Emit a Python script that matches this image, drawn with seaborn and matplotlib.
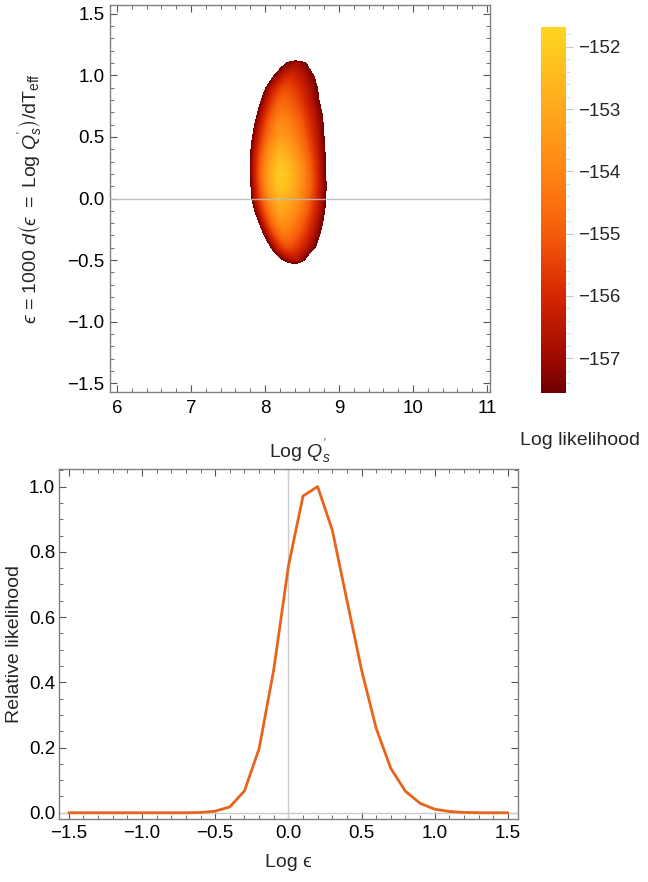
import numpy as np
import matplotlib
matplotlib.use("Agg")
import matplotlib.pyplot as plt
import seaborn as sns
from matplotlib.colors import LinearSegmentedColormap, Normalize
from matplotlib.ticker import MultipleLocator, FuncFormatter

# ---------------- data ----------------
# bottom panel: relative likelihood vs Log epsilon
eps_values = [-1.5, -1.4, -1.3, -1.2, -1.1, -1.0, -0.9, -0.8, -0.7, -0.6,
              -0.5, -0.4, -0.3, -0.2, -0.1, 0.0, 0.1, 0.2, 0.3, 0.4,
              0.5, 0.6, 0.7, 0.8, 0.9, 1.0, 1.1, 1.2, 1.3, 1.4, 1.5]
rel_likelihood = [0.0, 0.0, 0.0, 0.0, 0.0, 0.0, 0.0, 0.0, 0.0, 0.001,
                  0.005, 0.018, 0.067, 0.196, 0.438, 0.755, 0.971, 1.0, 0.867, 0.652,
                  0.438, 0.259, 0.136, 0.066, 0.029, 0.011, 0.004, 0.001, 0.0, 0.0, 0.0]

# top panel: per-row description of the log-likelihood surface
row_eps = [-0.7, -0.6, -0.5, -0.4, -0.3, -0.2, -0.1, 0.0, 0.1, 0.2, 0.3,
           0.4, 0.5, 0.6, 0.7, 0.8, 0.9, 1.0, 1.1, 1.2, 1.3]
row_max = [-161.0, -159.8, -156.6, -155.3, -154.4, -153.7, -153.1, -152.6, -152.15, -152.0, -152.3,
           -152.8, -153.4, -153.8, -154.3, -154.8, -155.3, -156.0, -156.9, -160.2, -161.0]
row_left = [8.23, 8.23, 8.23, 8.07, 7.98, 7.91, 7.85, 7.81, 7.80, 7.79, 7.79,
            7.80, 7.82, 7.85, 7.89, 7.94, 8.00, 8.11, 8.27, 8.27, 8.27]
row_right = [8.54, 8.54, 8.54, 8.68, 8.74, 8.78, 8.81, 8.82, 8.83, 8.82, 8.82,
             8.81, 8.80, 8.79, 8.77, 8.73, 8.71, 8.66, 8.56, 8.56, 8.56]
row_peak = [8.40, 8.40, 8.40, 8.30, 8.26, 8.23, 8.22, 8.21, 8.20, 8.20, 8.20,
            8.20, 8.21, 8.21, 8.22, 8.24, 8.27, 8.33, 8.41, 8.41, 8.41]
falloff_power = 1.6
cbar_min, cbar_max = -157.56, -151.68
cbar_ticks = [-157, -156, -155, -154, -153, -152]

cmap_colors = ["#6E0000", "#9E0A00", "#D62600", "#F55C0A", "#FF8514", "#FFA81C", "#FFD621"]
cmap_pos = [0.0, 0.095, 0.265, 0.435, 0.605, 0.776, 1.0]
line_color = "#E8641A"

# ---------------- build the surface table ----------------
x_grid = np.arange(7.5, 9.1001, 0.005)
table = np.zeros((len(row_eps), len(x_grid)))
for i in range(len(row_eps)):
    m = row_max[i]
    depth = max(m - cbar_min, 0.3)
    xp, xl, xr = row_peak[i], row_left[i], row_right[i]
    t = np.where(x_grid < xp, (xp - x_grid) / (xp - xl), (x_grid - xp) / (xr - xp))
    table[i] = m - depth * t ** falloff_power

# ---------------- style ----------------
sns.set_style("ticks")
plt.rcParams["font.family"] = ["Liberation Sans", "DejaVu Sans"]
plt.rcParams["mathtext.fontset"] = "custom"
plt.rcParams["mathtext.rm"] = "Liberation Sans"
plt.rcParams["mathtext.it"] = "Liberation Sans:italic"
plt.rcParams["mathtext.bf"] = "Liberation Sans:bold"
plt.rcParams["mathtext.fallback"] = "stixsans"

frame_col = "#808080"
fs_tick = 13.5
fs_lab = 14

fig = plt.figure(figsize=(6.48, 8.82), dpi=100)
ax1 = fig.add_axes([110 / 648, 1 - 392 / 882, 380 / 648, 387 / 882])
cax = fig.add_axes([541 / 648, 1 - 393 / 882, 25 / 648, 366 / 882])
ax2 = fig.add_axes([59.3 / 648, 1 - 819.3 / 882, 458.4 / 648, 350 / 882])

cmap = LinearSegmentedColormap.from_list("solar", list(zip(cmap_pos, cmap_colors)))
cmap.set_under("white")
norm = Normalize(vmin=cbar_min, vmax=cbar_max)

dx = x_grid[1] - x_grid[0]
im = ax1.imshow(table, origin="lower", aspect="auto", cmap=cmap, norm=norm,
                extent=[x_grid[0] - dx / 2, x_grid[-1] + dx / 2,
                        row_eps[0] - 0.05, row_eps[-1] + 0.05],
                interpolation="bilinear", interpolation_stage="data", zorder=1)
ax1.axhline(0, color="#bbbbbb", lw=1.0, zorder=3, alpha=0.9)
ax1.set_xlim(5.905, 11.04)
ax1.set_ylim(-1.57, 1.57)

def fmt1(v, pos):
    s = "%.1f" % v
    return s.replace("-", "\u2212")

def fmt0(v, pos):
    return ("%d" % round(v)).replace("-", "\u2212")

def style_frame(ax):
    for sp in ax.spines.values():
        sp.set_color(frame_col)
        sp.set_linewidth(1.0)
        sp.set_visible(True)
    ax.tick_params(which="both", direction="in", top=True, right=True,
                   colors="#555555", labelcolor="black", labelsize=fs_tick)
    ax.tick_params(which="major", length=5, width=0.8)
    ax.tick_params(which="minor", length=2.8, width=0.6)

style_frame(ax1)
ax1.xaxis.set_major_locator(MultipleLocator(1))
ax1.xaxis.set_minor_locator(MultipleLocator(0.2))
ax1.yaxis.set_major_locator(MultipleLocator(0.5))
ax1.yaxis.set_minor_locator(MultipleLocator(0.1))
ax1.xaxis.set_major_formatter(FuncFormatter(fmt0))
ax1.yaxis.set_major_formatter(FuncFormatter(fmt1))
ax1.tick_params(axis="x", which="major", pad=6)
ax1.tick_params(axis="y", which="major", pad=4)
ax1.set_xlabel(r"Log $Q_s^{'}$", fontsize=fs_lab, labelpad=14)
ax1.set_ylabel("$\u03f5$ = 1000 $d\\left(\u03f5\\ =\\ \\mathrm{Log}\\ Q_s^{'}\\right)/\\mathrm{dT}_{\\mathrm{eff}}$",
               fontsize=fs_lab, labelpad=15)

cb = fig.colorbar(im, cax=cax, ticks=cbar_ticks)
cb.outline.set_visible(False)
cb.ax.yaxis.set_minor_locator(MultipleLocator(0.2))
cb.ax.tick_params(which="major", length=5, width=0.8, color="#c8c8c8", labelsize=fs_tick, pad=4)
cb.ax.tick_params(which="minor", length=3, width=0.6, color="#d8d8d8")
cb.ax.yaxis.set_major_formatter(FuncFormatter(fmt0))
fig.text(580 / 648, 1 - 440 / 882, "Log likelihood", ha="center", va="center", fontsize=fs_lab)

# bottom panel
sns.lineplot(x=eps_values, y=rel_likelihood, ax=ax2, color=line_color, linewidth=2.0, zorder=3)
ax2.axhline(0, color="#cccccc", lw=1.0, zorder=1)
ax2.axvline(0, color="#cccccc", lw=1.0, zorder=1)
ax2.set_xlim(-1.565, 1.567)
ax2.set_ylim(-0.02, 1.053)
style_frame(ax2)
ax2.xaxis.set_major_locator(MultipleLocator(0.5))
ax2.xaxis.set_minor_locator(MultipleLocator(0.1))
ax2.yaxis.set_major_locator(MultipleLocator(0.2))
ax2.yaxis.set_minor_locator(MultipleLocator(0.05))
ax2.xaxis.set_major_formatter(FuncFormatter(fmt1))
ax2.yaxis.set_major_formatter(FuncFormatter(fmt1))
ax2.tick_params(axis="x", which="major", pad=4)
ax2.tick_params(axis="y", which="major", pad=3)
ax2.set_xlabel("Log \u03f5", fontsize=fs_lab, labelpad=9)
ax2.set_ylabel("Relative likelihood", fontsize=fs_lab, labelpad=4)

fig.savefig("out.png", dpi=100)
